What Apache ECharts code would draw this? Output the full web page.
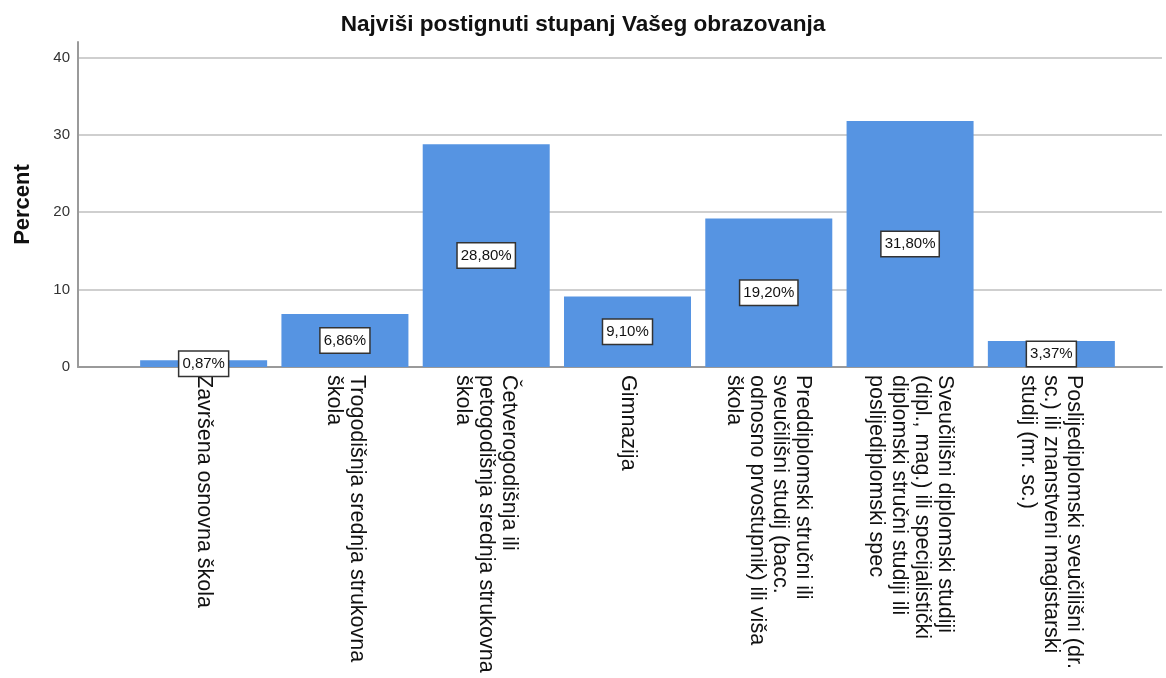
<!DOCTYPE html>
<html>
<head>
<meta charset="utf-8">
<title>Najviši postignuti stupanj Vašeg obrazovanja</title>
<script src="https://cdn.jsdelivr.net/npm/echarts@6/dist/echarts.min.js"></script>
<style>
  html, body { margin: 0; padding: 0; background: #fff; }
  #main { width: 1166px; height: 678px; }
</style>
</head>
<body>
<div id="main"></div>
<script>
// podaci
const categories = [
  'Završena osnovna škola',
  'Trogodišnja srednja strukovna\nškola',
  'Četverogodišnja ili\npetogodišnja srednja strukovna\nškola',
  'Gimnazija',
  'Preddiplomski stručni ili\nsveučilišni studij (bacc.\nodnosno prvostupnik) ili viša\nškola',
  'Sveučilišni diplomski studiji\n(dipl., mag.) ili specijalistički\ndiplomski stručni studiji ili\nposlijediplomski spec',
  'Poslijediplomski sveučilišni (dr.\nsc.) ili znanstveni magistarski\nstudij (mr. sc.)'
];
const percentValues = [0.87, 6.86, 28.80, 9.10, 19.20, 31.80, 3.37];
const yTicks = [0, 10, 20, 30, 40];

const chart = echarts.init(document.getElementById('main'), null, { renderer: 'canvas' });

const font = 'Arial, "Liberation Sans", sans-serif';

const option = {
  animation: false,
  title: {
    text: 'Najviši postignuti stupanj Vašeg obrazovanja',
    left: 'center',
    top: 8,
    textStyle: { fontFamily: font, fontSize: 22.6, fontWeight: 'bold', color: '#111' }
  },
  grid: [
    // okvir s osima i linijama mreže
    { left: 78, right: 4, top: 42, height: 325, containLabel: false, outerBoundsMode: 'none' },
    // stupci
    { left: 133, width: 989, top: 42, height: 325, containLabel: false, outerBoundsMode: 'none' }
  ],
  xAxis: [
    {
      gridIndex: 0, type: 'value', min: 0, max: 1,
      axisLine: { show: true, onZero: false, lineStyle: { color: '#9a9a9a', width: 2 } },
      axisTick: { show: false }, axisLabel: { show: false }, splitLine: { show: false }
    },
    {
      gridIndex: 1, type: 'category', data: categories,
      axisLine: { show: false }, axisTick: { show: false },
      axisLabel: {
        interval: 0, rotate: -90, margin: 8,
        fontFamily: font, fontSize: 21.5, lineHeight: 23, color: '#111'
      }
    }
  ],
  yAxis: [
    {
      gridIndex: 0, type: 'value', min: 0, max: 42, interval: 10,
      name: 'Percent', nameLocation: 'middle', nameGap: 44,
      nameTextStyle: { fontFamily: font, fontSize: 22, fontWeight: 'bold', color: '#111' },
      axisLine: { show: true, lineStyle: { color: '#9a9a9a', width: 2 } },
      axisTick: { show: false },
      axisLabel: {
        margin: 8, fontFamily: font, fontSize: 15, color: '#333',
        showMaxLabel: false,
        formatter: v => (yTicks.indexOf(v) >= 0 ? String(v) : '')
      },
      splitLine: { show: true, showMinLine: false, showMaxLine: false, lineStyle: { color: '#cfcfcf', width: 2 } }
    },
    {
      gridIndex: 1, type: 'value', min: 0, max: 42, show: false
    }
  ],
  series: [{
    name: 'Percent',
    type: 'bar',
    xAxisIndex: 1,
    yAxisIndex: 1,
    data: percentValues,
    barWidth: 127,
    itemStyle: { color: '#5694e2' },
    label: {
      show: true,
      position: 'inside',
      formatter: p => p.value.toFixed(2).replace('.', ',') + '%',
      fontFamily: font, fontSize: 15, color: '#111', lineHeight: 17,
      backgroundColor: '#fff', borderColor: '#333', borderWidth: 1.5,
      padding: [4, 3, 3, 3]
    }
  }]
};

chart.setOption(option);
</script>
</body>
</html>
